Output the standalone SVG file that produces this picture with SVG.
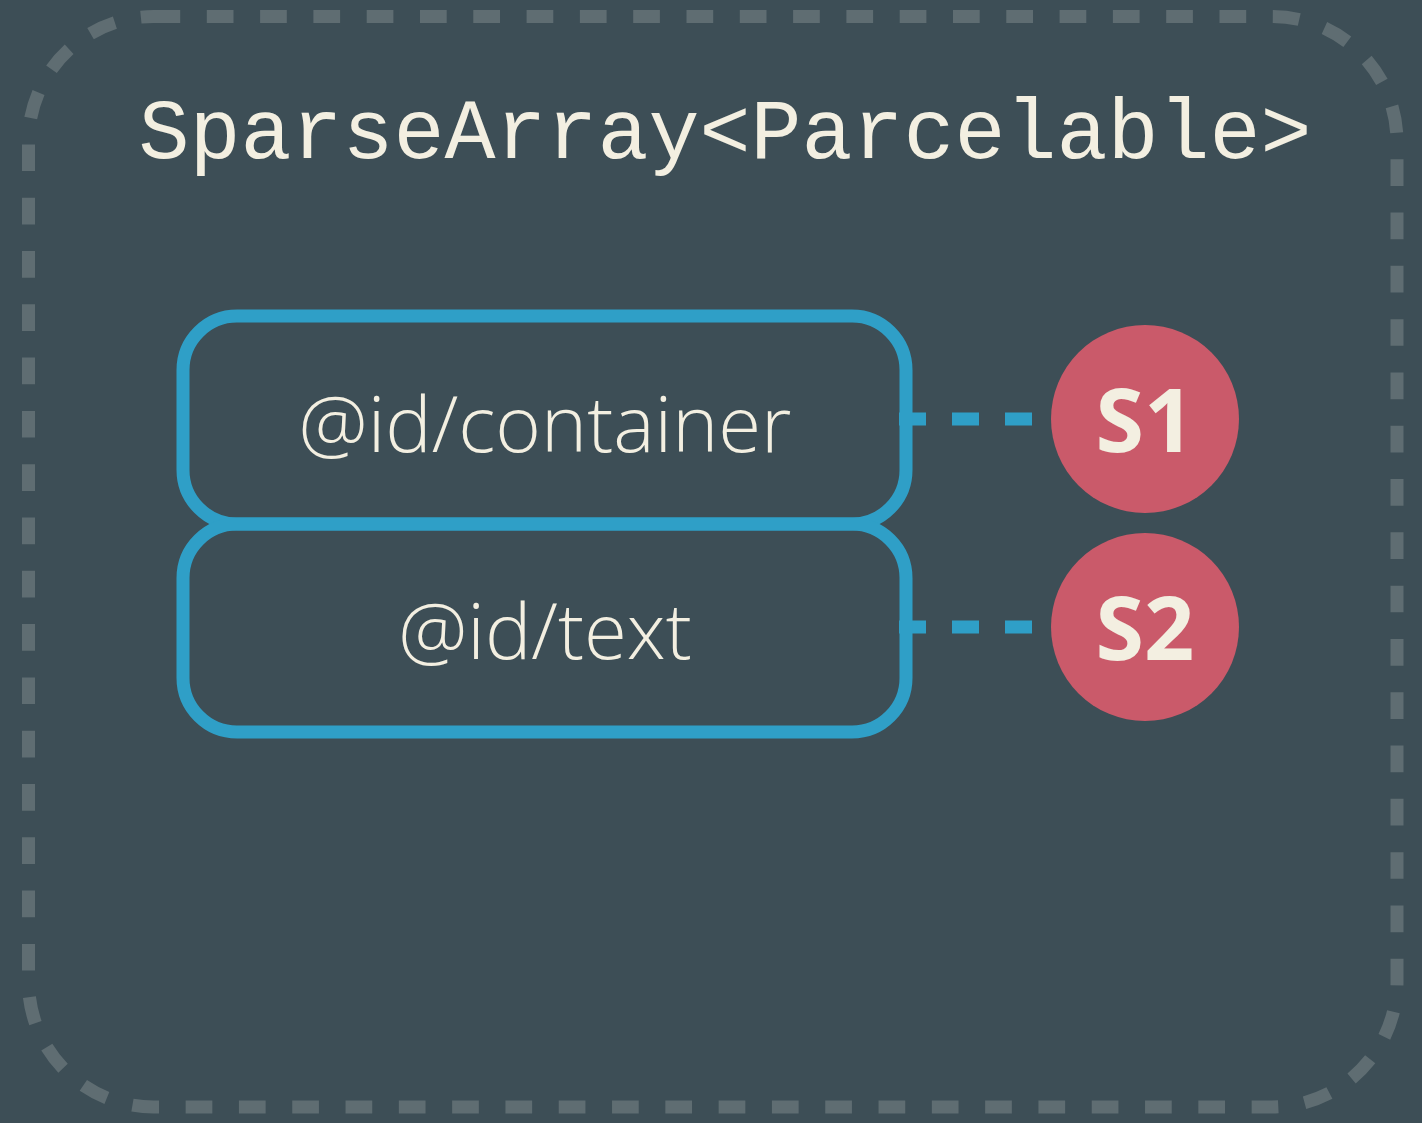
<svg xmlns="http://www.w3.org/2000/svg" width="1422" height="1123" viewBox="0 0 1422 1123">
  <style>
    .frame { fill: none; stroke: #5f6d72; stroke-width: 13; stroke-dasharray: 26.7 26.6; }
    .box { fill: none; stroke: #2f9fc7; stroke-width: 13; }
    .conn { fill: none; stroke: #2f9fc7; stroke-width: 13; stroke-dasharray: 27 26; }
    .badge { fill: #ca5a6a; }
    .title { font-family: "Liberation Mono", "Courier New", monospace; font-size: 85px; fill: #f3efe1; }
    .label { font-family: "Open Sans", "Noto Sans", sans-serif; font-weight: 300; font-size: 78px; fill: #f3efe1; }
    .badgeText { font-family: "Open Sans", "Noto Sans", sans-serif; font-weight: 700; font-size: 88px; fill: #f3efe1; }
  </style>
  <rect width="1422" height="1123" fill="#3d4e56"/>
  <g id="frame">
    <rect class="frame" x="28.5" y="16.5" width="1368.5" height="1090.5" rx="125" ry="125"/>
    <text class="title" x="725" y="158" text-anchor="middle">SparseArray&lt;Parcelable&gt;</text>
  </g>
  <g id="connectors">
    <line class="conn" x1="899" y1="419" x2="1052" y2="419"/>
    <line class="conn" x1="899" y1="627" x2="1052" y2="627"/>
  </g>
  <g id="node-container">
    <rect class="box" x="183" y="316" width="723" height="208" rx="54" ry="54"/>
    <text class="label" x="545" y="452" text-anchor="middle">@id/container</text>
  </g>
  <g id="node-text">
    <rect class="box" x="183" y="524" width="723" height="208" rx="54" ry="54"/>
    <text class="label" x="545" y="659" text-anchor="middle">@id/text</text>
  </g>
  <g id="badge-s1">
    <circle class="badge" cx="1145" cy="419" r="94"/>
    <text class="badgeText" x="1145" y="452" text-anchor="middle">S1</text>
  </g>
  <g id="badge-s2">
    <circle class="badge" cx="1145" cy="627" r="94"/>
    <text class="badgeText" x="1145" y="660" text-anchor="middle">S2</text>
  </g>
</svg>
